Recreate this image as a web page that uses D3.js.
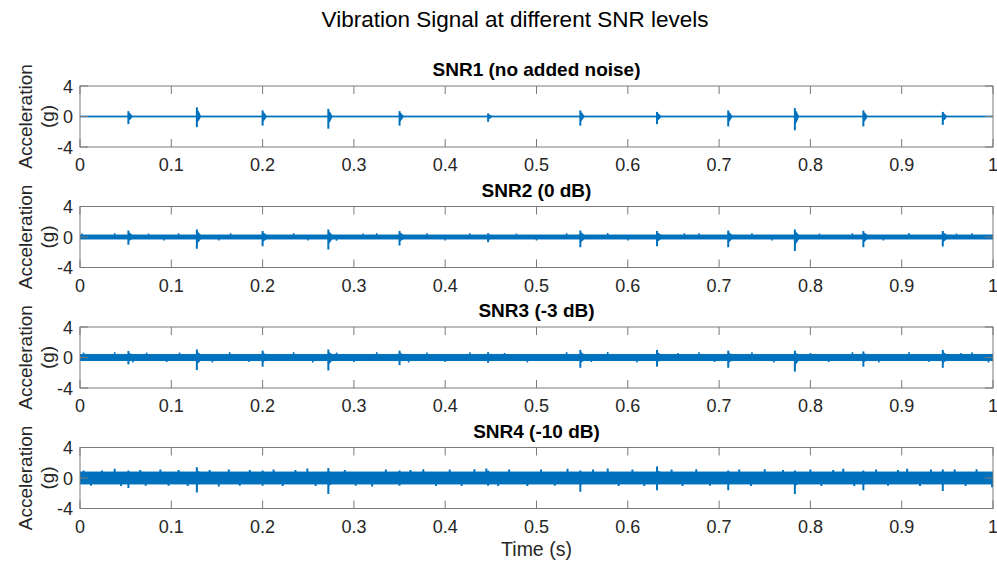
<!DOCTYPE html>
<html>
<head>
<meta charset="utf-8">
<script src="https://cdn.jsdelivr.net/npm/d3@7"></script>
<style>
  html, body { margin: 0; padding: 0; background: #fff; }
  svg { display: block; font-family: "Liberation Sans", Arial, Helvetica, sans-serif; }
</style>
</head>
<body>
<svg id="chart" width="997" height="565"></svg>
<script>
// ---------------- DATA ----------------
const mainTitle = "Vibration Signal at different SNR levels";
const panelTitles = ["SNR1 (no added noise)", "SNR2 (0 dB)", "SNR3 (-3 dB)", "SNR4 (-10 dB)"];
const xTicks = [0, 0.1, 0.2, 0.3, 0.4, 0.5, 0.6, 0.7, 0.8, 0.9, 1];
const yTicks = [-4, 0, 4];
const xLabel = "Time (s)";
const yLabelLines = ["Acceleration", "(g)"];

// impulse (fault) times in seconds
const impulseTimes = [0.053, 0.128, 0.200, 0.272, 0.350, 0.447, 0.548, 0.632, 0.710, 0.783, 0.858, 0.945];

// impulse peak (positive) and trough (negative) per panel, in g
const impulseUp1   = [0.7, 1.2, 0.8, 1.0, 0.7, 0.4, 0.8, 0.6, 0.8, 1.1, 0.8, 0.6];
const impulseDown1 = [-1.0, -1.4, -1.2, -1.6, -1.2, -0.7, -1.2, -1.0, -1.3, -1.8, -1.3, -1.1];
const impulseUp2   = [0.85, 1.0, 0.8, 1.0, 0.8, 0.5, 0.85, 0.8, 0.85, 1.0, 0.8, 0.8];
const impulseDown2 = [-1.0, -1.55, -1.2, -1.65, -1.1, -0.7, -1.35, -1.2, -1.35, -1.85, -1.35, -1.25];
const impulseUp3   = [0.85, 1.05, 0.9, 1.05, 0.9, 0.7, 1.0, 1.0, 0.9, 0.9, 0.8, 1.0];
const impulseDown3 = [-0.9, -1.65, -1.2, -1.7, -1.0, -0.7, -1.35, -1.2, -1.35, -1.85, -1.2, -1.35];
const impulseUp4   = [1.0, 1.4, 1.0, 1.3, 1.0, 1.0, 1.0, 1.5, 1.0, 1.0, 1.0, 1.1];
const impulseDown4 = [-1.3, -1.9, -1.0, -2.1, -1.0, -1.0, -1.8, -1.6, -1.6, -2.1, -1.6, -1.7];

// half-width of the dense noise band per panel, in g
const noiseBand = [0.05, 0.26, 0.4, 0.78];

// visible noise excursions [time, value]
const noiseSpikes1 = [];
const noiseSpikes2 = [
  [0.002, 0.45], [0.038, 0.5], [0.075, 0.45], [0.092, -0.45], [0.108, 0.5], [0.152, -0.45],
  [0.165, 0.5], [0.234, 0.48], [0.25, -0.45], [0.281, -0.5], [0.31, 0.45], [0.325, 0.5],
  [0.38, 0.48], [0.40, -0.45], [0.427, 0.5], [0.478, 0.45], [0.50, -0.45], [0.533, 0.5],
  [0.578, 0.52], [0.60, -0.45], [0.662, 0.48], [0.678, 0.5], [0.736, 0.5], [0.758, -0.45],
  [0.81, 0.45], [0.846, 0.5], [0.88, -0.45], [0.908, 0.52], [0.96, 0.45], [0.977, 0.5]
];
const noiseSpikes3 = [
  [0.004, 0.65], [0.038, 0.7], [0.058, -0.65], [0.073, 0.65], [0.095, -0.6], [0.109, 0.65],
  [0.145, -0.65], [0.164, 0.7], [0.185, -0.6], [0.234, 0.7], [0.255, -0.65], [0.281, 0.65],
  [0.30, -0.6], [0.325, 0.7], [0.36, -0.65], [0.38, 0.65], [0.40, -0.6], [0.427, 0.7],
  [0.465, 0.6], [0.49, -0.65], [0.533, 0.7], [0.56, -0.6], [0.578, 0.72], [0.61, -0.65],
  [0.655, 0.6], [0.678, 0.7], [0.695, -0.6], [0.736, 0.7], [0.76, -0.65], [0.80, 0.6],
  [0.82, -0.6], [0.846, 0.7], [0.875, -0.65], [0.908, 0.72], [0.93, -0.6], [0.965, 0.6],
  [0.977, 0.7], [0.995, -0.65]
];
const noiseSpikes4 = [
  [0.004, 1.0], [0.012, -1.0], [0.024, 1.0], [0.038, 1.2], [0.045, -1.05], [0.066, 1.05],
  [0.072, -1.0], [0.088, 1.1], [0.097, -1.0], [0.108, 1.05], [0.118, -1.05], [0.142, 1.05],
  [0.152, -1.1], [0.163, 1.1], [0.175, -1.0], [0.186, 1.05], [0.212, 1.1], [0.222, -1.05],
  [0.236, 1.05], [0.249, 1.25], [0.258, -1.05], [0.29, 1.05], [0.302, -1.0], [0.32, -1.1],
  [0.335, 1.1], [0.362, 1.05], [0.376, 1.15], [0.39, -1.05], [0.405, 1.1], [0.418, -1.05],
  [0.432, 1.15], [0.445, 1.25], [0.458, -1.05], [0.47, 1.1], [0.49, -1.05], [0.505, 1.1],
  [0.52, -1.0], [0.534, 1.2], [0.562, 1.1], [0.578, 1.25], [0.59, -1.05], [0.605, 1.1],
  [0.618, -1.05], [0.648, 1.1], [0.66, -1.05], [0.675, 1.15], [0.69, -1.0], [0.722, 1.1],
  [0.735, -1.05], [0.75, 1.15], [0.77, 1.05], [0.80, 1.1], [0.812, -1.05], [0.825, 1.05],
  [0.836, 1.2], [0.848, -1.05], [0.872, 1.1], [0.885, -1.0], [0.896, 1.05], [0.906, 1.2],
  [0.92, -1.05], [0.932, 1.1], [0.958, 1.1], [0.97, -1.05], [0.982, 1.15], [0.999, -1.2]
];

const impulseUp = [impulseUp1, impulseUp2, impulseUp3, impulseUp4];
const impulseDown = [impulseDown1, impulseDown2, impulseDown3, impulseDown4];
const noiseSpikes = [noiseSpikes1, noiseSpikes2, noiseSpikes3, noiseSpikes4];

// ---------------- LAYOUT ----------------
const svg = d3.select("#chart");
const W = 997, H = 565;
const left = 80, right = 993;
const panelTops = [86, 206.5, 327, 447.5];
const panelH = 61;
const lineColor = "#0072BD";
const axisColor = "#7a7a7a";
const textColor = "#262626";

const x = d3.scaleLinear().domain([0, 1]).range([left, right]);

svg.append("rect").attr("width", W).attr("height", H).attr("fill", "#fff");

svg.append("text")
  .attr("x", 515).attr("y", 27)
  .attr("text-anchor", "middle")
  .attr("font-size", 22.5)
  .attr("fill", "#000")
  .text(mainTitle);

panelTitles.forEach((title, i) => {
  const top = panelTops[i];
  const y = d3.scaleLinear().domain([-4, 4]).range([top + panelH, top]);
  const g = svg.append("g");

  g.append("rect").attr("x", left).attr("y", top)
    .attr("width", right - left).attr("height", panelH).attr("fill", "#fff");

  const clipId = "clip" + i;
  g.append("clipPath").attr("id", clipId).append("rect")
    .attr("x", left).attr("y", top).attr("width", right - left).attr("height", panelH);
  const plot = g.append("g").attr("clip-path", `url(#${clipId})`);

  // dense noise band
  const band = noiseBand[i];
  const bandArea = d3.area().x(d => x(d)).y0(y(-band)).y1(y(band));
  plot.append("path").datum([0, 1]).attr("d", bandArea)
    .attr("fill", lineColor).attr("stroke", lineColor).attr("stroke-width", 1);

  // noise excursions
  plot.selectAll(".spike").data(noiseSpikes[i]).enter().append("line")
    .attr("x1", d => x(d[0])).attr("x2", d => x(d[0]))
    .attr("y1", y(0)).attr("y2", d => y(d[1]))
    .attr("stroke", lineColor).attr("stroke-width", i === 3 ? 2 : 1.6);

  // impulse bursts
  const burstArea = d3.area().x(d => x(d.t)).y0(d => y(d.lo)).y1(d => y(d.hi));
  impulseTimes.forEach((t, k) => {
    const up = impulseUp[i][k], dn = impulseDown[i][k];
    plot.append("path")
      .datum([
        { t: t - 0.0006, hi: band, lo: -band },
        { t: t + 0.0003, hi: Math.max(band, up * 0.75), lo: Math.min(-band, dn * 0.55) },
        { t: t + 0.002, hi: Math.max(band, up * 0.6), lo: Math.min(-band, dn * 0.42) },
        { t: t + 0.0045, hi: band, lo: -band }
      ])
      .attr("d", burstArea).attr("fill", lineColor);
    plot.append("line")
      .attr("x1", x(t)).attr("x2", x(t))
      .attr("y1", y(dn)).attr("y2", y(up))
      .attr("stroke", lineColor).attr("stroke-width", 2);
  });

  // box
  g.append("rect").attr("x", left).attr("y", top)
    .attr("width", right - left).attr("height", panelH)
    .attr("fill", "none").attr("stroke", axisColor).attr("stroke-width", 1);

  const tickLen = 8;
  xTicks.forEach(v => {
    g.append("line").attr("x1", x(v)).attr("x2", x(v))
      .attr("y1", top + panelH).attr("y2", top + panelH - tickLen)
      .attr("stroke", axisColor);
    g.append("line").attr("x1", x(v)).attr("x2", x(v))
      .attr("y1", top).attr("y2", top + tickLen)
      .attr("stroke", axisColor);
    g.append("text")
      .attr("x", x(v)).attr("y", top + panelH + 24)
      .attr("text-anchor", "middle").attr("font-size", 18)
      .attr("fill", textColor).text(d3.format("")(v));
  });

  yTicks.forEach(v => {
    g.append("line").attr("x1", left).attr("x2", left + tickLen)
      .attr("y1", y(v)).attr("y2", y(v)).attr("stroke", axisColor);
    g.append("line").attr("x1", right).attr("x2", right - tickLen)
      .attr("y1", y(v)).attr("y2", y(v)).attr("stroke", axisColor);
    g.append("text")
      .attr("x", left - 7).attr("y", y(v) + 6.5)
      .attr("text-anchor", "end").attr("font-size", 18)
      .attr("fill", textColor).text(v);
  });

  g.append("text")
    .attr("x", (left + right) / 2).attr("y", top - 10)
    .attr("text-anchor", "middle").attr("font-size", 19)
    .attr("font-weight", "bold").attr("fill", "#000")
    .text(title);

  const cy = top + panelH / 2;
  yLabelLines.forEach((txt, j) => {
    const lx = 32 + j * 22;
    g.append("text")
      .attr("transform", `translate(${lx},${cy}) rotate(-90)`)
      .attr("text-anchor", "middle").attr("font-size", 19)
      .attr("fill", textColor).text(txt);
  });
});

svg.append("text")
  .attr("x", (left + right) / 2).attr("y", 556)
  .attr("text-anchor", "middle").attr("font-size", 19.5)
  .attr("fill", textColor).text(xLabel);
</script>
</body>
</html>
